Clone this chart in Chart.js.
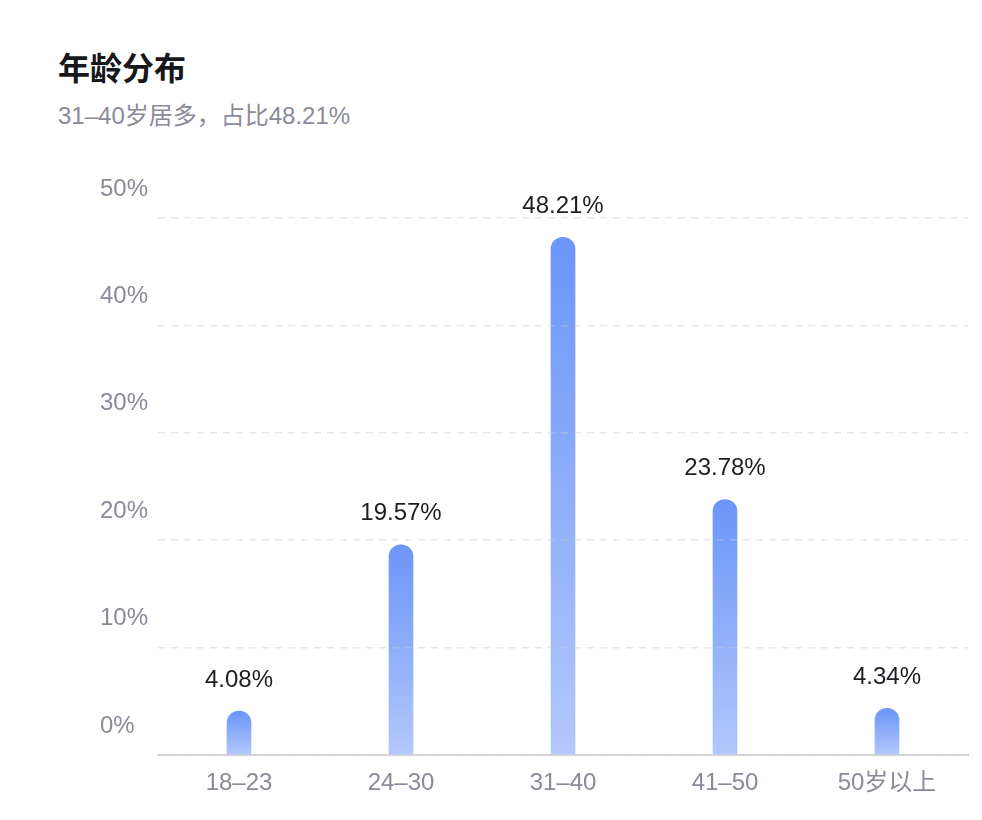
<!DOCTYPE html>
<html>
<head>
<meta charset="utf-8">
<script src="https://cdn.jsdelivr.net/npm/chart.js@4"></script>
<style>
  body { margin: 0; background: #fff; font-family: "Liberation Sans", "Noto Sans CJK SC", sans-serif; }
  .title { position: absolute; left: 58px; top: 43px; font-size: 32px; font-weight: bold; color: #17171c; font-family: "Noto Sans CJK SC", sans-serif; }
  .sub { position: absolute; left: 58px; top: 96px; font-size: 24px; color: #8a8a99; }
  .wrap { position: absolute; left: 0; top: 140px; width: 982px; height: 680px; }
</style>
</head>
<body>
<div class="title">年龄分布</div>
<div class="sub">31–40岁居多，占比48.21%</div>
<div class="wrap"><canvas id="ageChart"></canvas></div>
<script>
const ageGroups = ['18–23', '24–30', '31–40', '41–50', '50岁以上'];
const shares = [4.08, 19.57, 48.21, 23.78, 4.34];
const yTicks = [0, 10, 20, 30, 40, 50];

// gradient per bar, darker at top
function barGradient(context) {
  const chart = context.chart;
  if (!chart.chartArea) return '#7a9ef9';
  const y = chart.scales.y;
  const top = y.getPixelForValue(context.raw);
  const bottom = y.getPixelForValue(0);
  const g = chart.ctx.createLinearGradient(0, top, 0, bottom);
  g.addColorStop(0, '#6b95f8');
  g.addColorStop(1, '#b3c8fb');
  return g;
}

const valueLabels = {
  id: 'valueLabels',
  afterDatasetsDraw(chart) {
    const ctx = chart.ctx;
    const meta = chart.getDatasetMeta(0);
    ctx.save();
    ctx.font = '24px "Liberation Sans", "Noto Sans CJK SC", sans-serif';
    ctx.fillStyle = '#1d1d22';
    ctx.textAlign = 'center';
    ctx.textBaseline = 'middle';
    meta.data.forEach((bar, i) => {
      ctx.fillText(shares[i].toFixed(2) + '%', bar.x, bar.y - 31);
    });
    ctx.restore();
  }
};

const ctx = document.getElementById('ageChart').getContext('2d');
const ageChart = new Chart(ctx, {
  type: 'bar',
  data: {
    labels: ageGroups,
    datasets: [{
      data: shares,
      backgroundColor: barGradient,
      barThickness: 24,
      borderRadius: 12,
      borderSkipped: 'start'
    }]
  },
  options: {
    responsive: true,
    maintainAspectRatio: false,
    animation: false,
    layout: { padding: { left: 100, right: 14, top: 78, bottom: 0 } },
    plugins: {
      legend: { display: false },
      tooltip: { enabled: false }
    },
    scales: {
      x: {
        afterFit: axis => { axis.height = 65; },
        grid: { display: false, drawTicks: false },
        border: { display: true, color: '#d6d6da', width: 2 },
        ticks: {
          color: '#8a8a99',
          padding: 14,
          font: { size: 24, family: '"Liberation Sans", "Noto Sans CJK SC", sans-serif' }
        }
      },
      y: {
        min: 0,
        max: 50,
        afterBuildTicks: axis => { axis.ticks = yTicks.map(v => ({ value: v })); },
        afterFit: axis => { axis.width = 58; },
        grid: { color: 'rgba(200,200,215,0.45)', lineWidth: 1.5, drawTicks: false, z: 1 },
        border: { display: false, dash: [7, 6] },
        ticks: {
          color: '#8a8a99',
          crossAlign: 'far',
          labelOffset: -29,
          padding: 0,
          font: { size: 24, family: '"Liberation Sans", "Noto Sans CJK SC", sans-serif' },
          callback: v => v + '%'
        }
      }
    }
  },
  plugins: [valueLabels]
});
</script>
</body>
</html>
